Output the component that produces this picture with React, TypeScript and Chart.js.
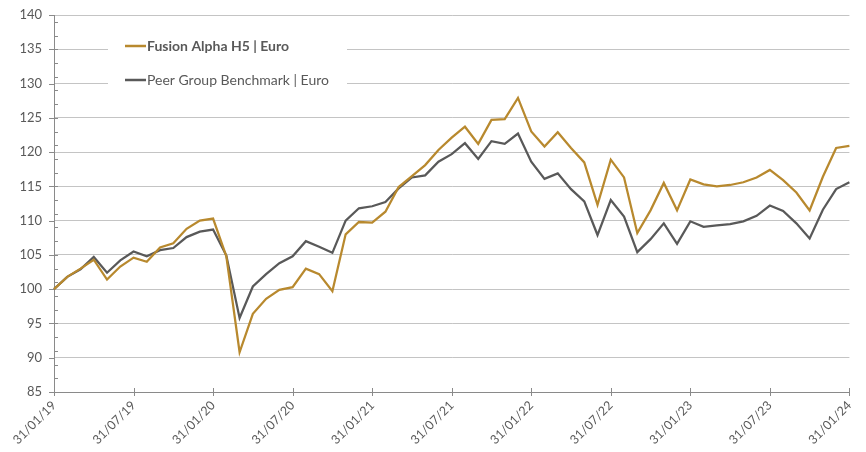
import React, { useEffect, useRef } from "react";
import { Chart, registerables } from "chart.js";

Chart.register(...registerables);

// Month-end observation dates, Jan 2019 .. Jan 2024 (61 months)
const startYear = 2019;
const monthCount = 61;
const categories: string[] = Array.from({ length: monthCount }, (_, i) => {
  const y = startYear + Math.floor(i / 12);
  const m = i % 12;
  const last = new Date(y, m + 1, 0).getDate();
  return `${String(last).padStart(2, "0")}/${String(m + 1).padStart(2, "0")}/${String(y).slice(2)}`;
});

const tickLabels = [
  "31/01/19", "31/07/19", "31/01/20", "31/07/20", "31/01/21", "31/07/21",
  "31/01/22", "31/07/22", "31/01/23", "31/07/23", "31/01/24",
];

const fundLabel = "Fusion Alpha H5 | Euro";
const fundValues = [
  100, 101.8, 103.0, 104.3, 101.4, 103.3, 104.6, 104.0, 106.1, 106.7, 108.8, 110.0,
  110.3, 104.8, 90.8, 96.4, 98.6, 99.9, 100.3, 103.0, 102.2, 99.7, 108.0, 109.8,
  109.7, 111.3, 114.9, 116.5, 118.1, 120.3, 122.1, 123.7, 121.2, 124.7, 124.8, 127.9,
  123.0, 120.8, 122.9, 120.6, 118.5, 112.3, 118.9, 116.3, 108.2, 111.5, 115.5, 111.5,
  116.0, 115.3, 115.0, 115.2, 115.6, 116.3, 117.4, 115.9, 114.1, 111.5, 116.4, 120.6,
  120.9,
];

const peerLabel = "Peer Group Benchmark | Euro";
const peerValues = [
  100, 101.8, 102.9, 104.7, 102.4, 104.2, 105.5, 104.8, 105.7, 106.0, 107.6, 108.4,
  108.7, 104.9, 95.8, 100.4, 102.2, 103.8, 104.8, 107.0, 106.2, 105.3, 110.0, 111.8,
  112.1, 112.7, 114.7, 116.3, 116.6, 118.6, 119.7, 121.3, 119.0, 121.6, 121.2, 122.7,
  118.6, 116.1, 116.9, 114.6, 112.8, 107.9, 113.0, 110.6, 105.4, 107.3, 109.6, 106.6,
  109.9, 109.1, 109.3, 109.5, 109.9, 110.7, 112.2, 111.4, 109.6, 107.4, 111.6, 114.6,
  115.6,
];

const yMin = 85;
const yMax = 140;
const yStep = 5;
const yMinorStep = 2;
const tickEvery = 6;

const GOLD = "#b8892e";
const GREY = "#595959";
const TEXT = "#595959";
const GRID = "#c4c4c4";
const AXIS = "#8a8a8a";
const FONT = "Lato, 'Open Sans', sans-serif";

const ticksPlugin = {
  id: "excelTicks",
  afterDraw(chart: any) {
    const { ctx, chartArea } = chart;
    const xs = chart.scales.x;
    const ys = chart.scales.y;
    ctx.save();
    ctx.strokeStyle = AXIS;
    ctx.lineWidth = 1;
    ctx.beginPath();
    for (let i = 0; i < categories.length; i += tickEvery) {
      const x = Math.round(xs.getPixelForValue(i)) + 0.5;
      ctx.moveTo(x, chartArea.bottom - 4);
      ctx.lineTo(x, chartArea.bottom + 4);
    }
    for (let v = yMin; v <= yMax; v += yStep) {
      const y = Math.round(ys.getPixelForValue(v)) + 0.5;
      ctx.moveTo(chartArea.left - 5, y);
      ctx.lineTo(chartArea.left, y);
    }
    for (let v = yMin + yMinorStep; v < yMax; v += yMinorStep) {
      const y = Math.round(ys.getPixelForValue(v)) + 0.5;
      ctx.moveTo(chartArea.left, y);
      ctx.lineTo(chartArea.left + 4, y);
    }
    ctx.stroke();

    // legend box inside plot
    ctx.fillStyle = "#ffffff";
    ctx.fillRect(108, 28, 239, 70);
    const items = chart.data.datasets;
    const rows = [46, 80];
    items.forEach((ds: any, i: number) => {
      const y = rows[i];
      ctx.strokeStyle = ds.borderColor;
      ctx.lineWidth = 2.5;
      ctx.beginPath();
      ctx.moveTo(125, y);
      ctx.lineTo(146, y);
      ctx.stroke();
      ctx.fillStyle = TEXT;
      ctx.font = `${i === 0 ? "bold " : ""}14px ${FONT}`;
      ctx.textBaseline = "middle";
      ctx.textAlign = "left";
      ctx.fillText(ds.label, 147, y + 0.5);
    });
    ctx.restore();
  },
};

export default function App() {
  const canvasRef = useRef<HTMLCanvasElement | null>(null);

  useEffect(() => {
    if (!canvasRef.current) return;
    const chart = new Chart(canvasRef.current, {
      type: "line",
      data: {
        labels: categories,
        datasets: [
          {
            label: fundLabel,
            data: fundValues,
            borderColor: GOLD,
            borderWidth: 2.25,
            pointRadius: 0,
            tension: 0,
            fill: false,
          },
          {
            label: peerLabel,
            data: peerValues,
            borderColor: GREY,
            borderWidth: 2.25,
            pointRadius: 0,
            tension: 0,
            fill: false,
          },
        ],
      },
      options: {
        responsive: false,
        animation: false,
        devicePixelRatio: 1,
        layout: { padding: { top: 15, right: 16, left: 0, bottom: 0 } },
        plugins: {
          legend: { display: false },
          tooltip: { enabled: false },
        },
        scales: {
          x: {
            type: "category",
            offset: false,
            grid: { drawOnChartArea: false, drawTicks: false },
            border: { display: true, color: AXIS, width: 1 },
            ticks: {
              autoSkip: false,
              maxRotation: 45,
              minRotation: 45,
              padding: 6,
              color: TEXT,
              font: { family: FONT, size: 12.5 },
              callback: (_v: any, i: number) =>
                i % tickEvery === 0 ? tickLabels[i / tickEvery] : "",
            },
            afterFit: (s: any) => {
              s.height = 60;
            },
          },
          y: {
            min: yMin,
            max: yMax,
            grid: {
              color: GRID,
              lineWidth: 1,
              drawTicks: true,
              tickLength: 12,
              tickColor: "rgba(0,0,0,0)",
            },
            border: { display: true, color: AXIS, width: 1 },
            ticks: {
              stepSize: yStep,
              padding: 0,
              color: TEXT,
              font: { family: FONT, size: 13 },
            },
            afterFit: (s: any) => {
              s.width = 54;
            },
          },
        },
      },
      plugins: [ticksPlugin],
    });
    return () => chart.destroy();
  }, []);

  return (
    <div style={{ position: "fixed", left: 0, top: 0, width: 866, height: 452, background: "#fff" }}>
      <canvas ref={canvasRef} width={866} height={452} />
    </div>
  );
}
